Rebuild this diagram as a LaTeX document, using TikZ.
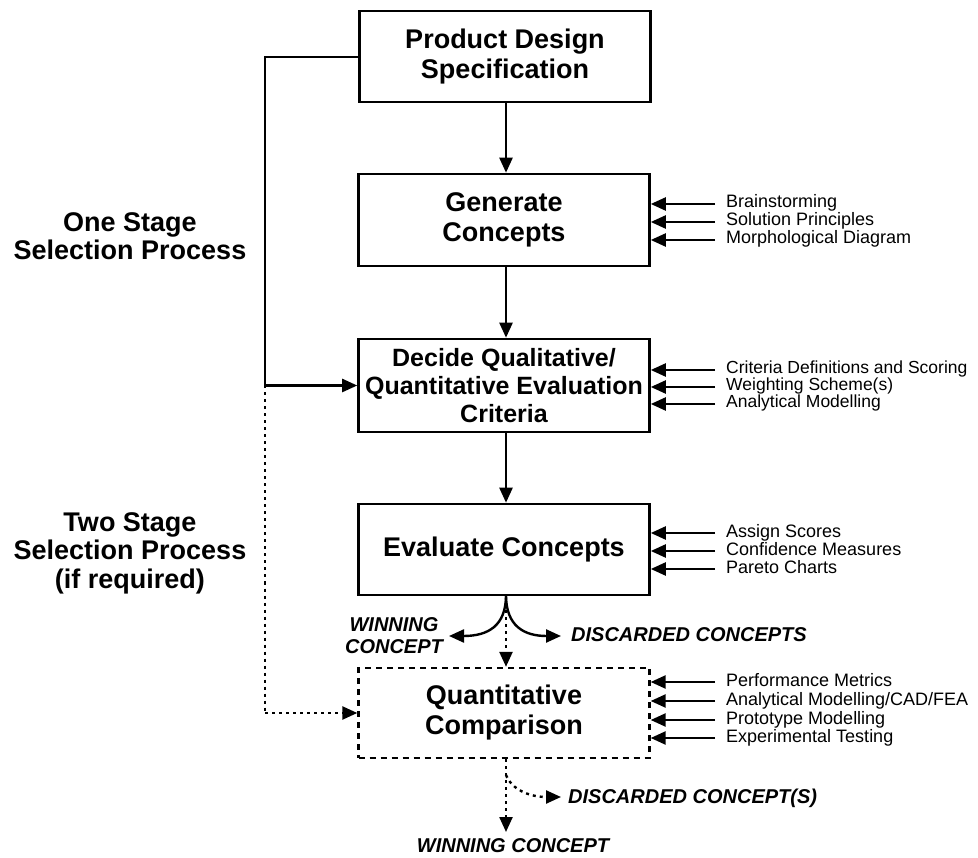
\documentclass[tikz,border=0pt]{standalone}
\usepackage{fontspec}
\setmainfont{Liberation Sans}
\usetikzlibrary{arrows.meta}
\begin{document}
\begin{tikzpicture}[x=1pt,y=-1pt,
  box/.style={draw, line width=2.6pt, minimum width=291pt, minimum height=91pt, align=center, inner sep=0pt,
    font=\fontsize{27}{30}\selectfont\bfseries},
  dbox/.style={box, line width=2.4pt, dash pattern=on 6pt off 5pt},
  arr/.style={line width=2.4pt, -{Triangle[length=15pt,width=13pt]}},
  darr/.style={arr, dash pattern=on 3pt off 4pt},
  conn/.style={line width=2.4pt},
  dconn/.style={line width=2.4pt, dash pattern=on 3pt off 4pt},
  side/.style={font=\fontsize{18}{18}\selectfont, anchor=west, inner sep=0pt, text height=11pt, text depth=3pt},
  lab/.style={font=\fontsize{27}{28}\selectfont\bfseries, anchor=base, inner sep=0pt},
  ital/.style={font=\fontsize{20}{22}\selectfont\bfseries\itshape, inner sep=0pt}
]
\useasboundingbox (0,0) rectangle (978,858);
\fill[white] (0,0) rectangle (978,858);

% main boxes
\node[box] (pds) at (505,56.5) {Product Design\\Specification};
\node[box, minimum height=92pt] (gen) at (504,220) {Generate\\Concepts};
\node[box, minimum height=93pt, font=\fontsize{25}{28}\selectfont\bfseries] (dec) at (504,385.5) {Decide Qualitative/\\Quantitative Evaluation\\Criteria};
\node[box] (eva) at (504,549.5) {Evaluate Concepts};
\node[dbox, minimum height=90pt] (qua) at (504,713) {Quantitative\\Comparison};

% vertical flow
\draw[arr] (pds.south -| 506,0) -- (gen.north -| 506,0);
\draw[arr] (gen.south -| 506,0) -- (dec.north -| 506,0);
\draw[arr] (dec.south -| 506,0) -- (eva.north -| 506,0);
\draw[darr] (eva.south -| 506,0) -- (qua.north -| 506,0);

% left loop
\coordinate (lt) at (265,57);
\coordinate (lm) at (265,385.5);
\coordinate (lb) at (265,713);
\draw[conn] (pds.west |- lt) -- (lt) -- (lm);
\draw[arr] (lm) -- (dec.west);
\draw[dconn] (lm) -- (lb);
\draw[darr] (lb) -- (qua.west);

% left labels
\node[lab] (l1) at (130,232) {One Stage};
\node[lab] (l2) at (130,260) {Selection Process};
\node[lab] (l3) at (130,532) {Two Stage};
\node[lab] (l4) at (130,560) {Selection Process};
\node[lab] (l5) at (130,588) {(if required)};

% side inputs
\foreach \y/\t [count=\i] in {204/{Brainstorming}, 222/{Solution Principles}, 240/{Morphological Diagram}}{
  \node[side] (g\i) at (726,\y) {\t};
  \coordinate (gc\i) at (715,\y);
  \draw[arr] (gc\i) -- (gen.east |- gc\i);
}
\foreach \y/\t [count=\i] in {370/{Criteria Definitions and Scoring}, 387/{Weighting Scheme(s)}, 404/{Analytical Modelling}}{
  \node[side, font=\fontsize{17.5}{17.5}\selectfont, text height=10pt, text depth=3pt] (d\i) at (726,\y) {\t};
  \coordinate (dc\i) at (715,\y);
  \draw[arr] (dc\i) -- (dec.east |- dc\i);
}
\foreach \y/\t [count=\i] in {533/{Assign Scores}, 551/{Confidence Measures}, 569/{Pareto Charts}}{
  \node[side] (e\i) at (726,\y) {\t};
  \coordinate (ec\i) at (715,\y);
  \draw[arr] (ec\i) -- (eva.east |- ec\i);
}
\foreach \y/\t [count=\i] in {682/{Performance Metrics}, 701/{Analytical Modelling/CAD/FEA}, 720/{Prototype Modelling}, 738/{Experimental Testing}}{
  \node[side] (q\i) at (726,\y) {\t};
  \coordinate (qc\i) at (715,\y);
  \draw[arr] (qc\i) -- (qua.east |- qc\i);
}

% outcomes of evaluation
\coordinate (eb) at (506,595);
\coordinate (wl) at (449,636);
\coordinate (dr) at (561,636);
\draw[arr] (eb) .. controls (506,626) and (488,636) .. (wl);
\draw[arr] (eb) .. controls (506,626) and (524,636) .. (dr);
\node[ital, anchor=base] (w1) at (394,631) {WINNING};
\node[ital, anchor=base] (w2) at (394,653) {CONCEPT};
\node[ital, anchor=base west] (dc) at (571,641) {DISCARDED CONCEPTS};

% outcomes of comparison
\coordinate (qb) at (506,758.5);
\coordinate (qd) at (506,775);
\coordinate (qw) at (506,832);
\coordinate (qr) at (561,797);
\draw[darr] (qua.south -| qb) -- (qw);
\draw[darr] (qd) .. controls (512,790) and (530,797) .. (qr);
\node[ital, anchor=base west] (dcs) at (568,803) {DISCARDED CONCEPT(S)};
\node[ital, anchor=base] (wc) at (513,852) {WINNING CONCEPT};
\end{tikzpicture}
\end{document}
